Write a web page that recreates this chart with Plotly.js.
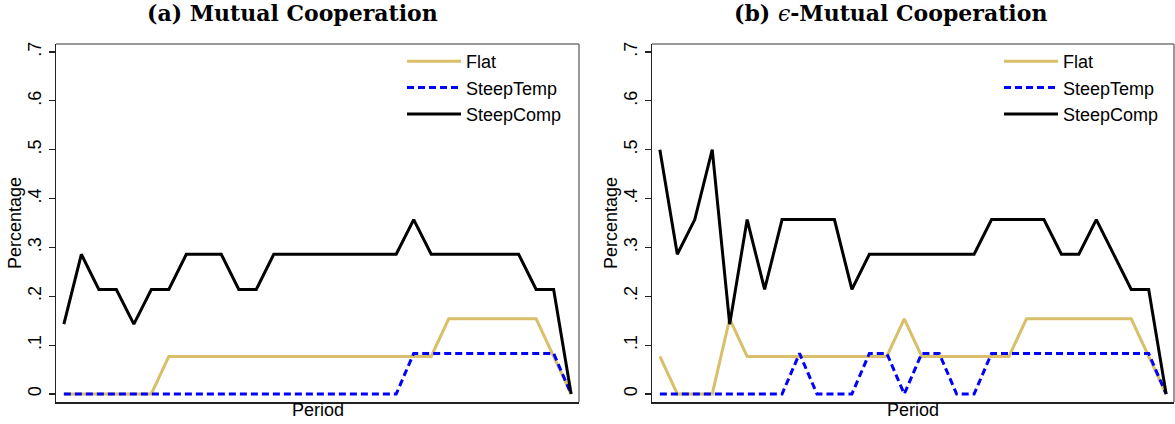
<!DOCTYPE html>
<html>
<head>
<meta charset="utf-8">
<script src="https://cdn.plot.ly/plotly-3.0.1.min.js"></script>
<style>html,body{margin:0;padding:0;background:#fff;}#chart{width:1175px;height:424px;}</style>
</head>
<body>
<div id="chart"></div>
<script>
// ---- data ----
const periods = Array.from({length: 30}, (_, i) => i + 1);
const seriesNames = ["Flat", "SteepTemp", "SteepComp"];

// (a) Mutual Cooperation
const flatA = [0,0,0,0,0,0,0.077,0.077,0.077,0.077,0.077,0.077,0.077,0.077,0.077,0.077,0.077,0.077,0.077,0.077,0.077,0.077,0.154,0.154,0.154,0.154,0.154,0.154,0.077,0];
const steepTempA = [0,0,0,0,0,0,0,0,0,0,0,0,0,0,0,0,0,0,0,0,0.083,0.083,0.083,0.083,0.083,0.083,0.083,0.083,0.083,0];
const steepCompA = [0.143,0.286,0.214,0.214,0.143,0.214,0.214,0.286,0.286,0.286,0.214,0.214,0.286,0.286,0.286,0.286,0.286,0.286,0.286,0.286,0.357,0.286,0.286,0.286,0.286,0.286,0.286,0.214,0.214,0];

// (b) epsilon-Mutual Cooperation
const flatB = [0.077,0,0,0,0.154,0.077,0.077,0.077,0.077,0.077,0.077,0.077,0.077,0.077,0.154,0.077,0.077,0.077,0.077,0.077,0.077,0.154,0.154,0.154,0.154,0.154,0.154,0.154,0.077,0];
const steepTempB = [0,0,0,0,0,0,0,0,0.083,0,0,0,0.083,0.083,0,0.083,0.083,0,0,0.083,0.083,0.083,0.083,0.083,0.083,0.083,0.083,0.083,0.083,0];
const steepCompB = [0.5,0.286,0.357,0.5,0.143,0.357,0.214,0.357,0.357,0.357,0.357,0.214,0.286,0.286,0.286,0.286,0.286,0.286,0.286,0.357,0.357,0.357,0.357,0.286,0.286,0.357,0.286,0.214,0.214,0];

const yTickVals = [0, 0.1, 0.2, 0.3, 0.4, 0.5, 0.6, 0.7];
const yTickText = ["0", ".1", ".2", ".3", ".4", ".5", ".6", ".7"];
const panelTitles = ["<b>(a) Mutual Cooperation</b>", "<b>(b) </b><i>ϵ</i><b>-Mutual Cooperation</b>"];
const xTitle = "Period";
const yTitle = "Percentage";

// ---- styles ----
const sans = "Liberation Sans, Arial, sans-serif";
const styles = [
  {color: "#d9bf69", width: 3, dash: "solid"},
  {color: "#0000ff", width: 3, dash: "7px,4px"},
  {color: "#000000", width: 3, dash: "solid"}
];

function mk(y, i, xa, ya, lg) {
  return {x: periods, y: y, type: "scatter", mode: "lines", name: seriesNames[i],
    line: styles[i], xaxis: xa, yaxis: ya, legend: lg, hoverinfo: "skip"};
}

const data = [
  mk(flatA, 0, "x", "y", "legend"), mk(steepTempA, 1, "x", "y", "legend"), mk(steepCompA, 2, "x", "y", "legend"),
  mk(flatB, 0, "x2", "y2", "legend2"), mk(steepTempB, 1, "x2", "y2", "legend2"), mk(steepCompB, 2, "x2", "y2", "legend2")
];

const W = 1175, H = 424;
const yDom = [(H - 402) / H, (H - 44) / H];
function xax(dom) {
  return {domain: dom, range: [0.55, 30.45], showticklabels: false, ticks: "", showgrid: false, zeroline: false,
    showline: true, linecolor: "#222", linewidth: 1.5, fixedrange: true};
}
function yax(anchor) {
  return {domain: yDom, anchor: anchor, range: [-0.01637, 0.71637], tickvals: yTickVals, ticktext: yTickText,
    tickangle: -90, ticks: "outside", ticklen: 6, tickwidth: 1.2, tickcolor: "#222", showgrid: false, zeroline: false,
    showline: true, linecolor: "#222", linewidth: 1.5, tickfont: {family: sans, size: 18, color: "#000"}, fixedrange: true};
}
function legend(x) {
  return {x: x, y: (H - 43) / H, xref: "paper", yref: "paper", xanchor: "left", yanchor: "top",
    bgcolor: "rgba(0,0,0,0)", font: {family: sans, size: 18, color: "#000"}, itemwidth: 54, tracegroupgap: 0};
}
function frame(xa, ya) {
  return [
    {type: "line", xref: xa + " domain", yref: ya + " domain", x0: 0, x1: 1, y0: 1, y1: 1, line: {color: "#777", width: 1.5}},
    {type: "line", xref: xa + " domain", yref: ya + " domain", x0: 1, x1: 1, y0: 0, y1: 1, line: {color: "#777", width: 1.5}}
  ];
}

const xDomA = [56 / W, 579 / W], xDomB = [652 / W, 1174 / W];
const titleFont = {family: "DejaVu Serif, serif", size: 22, color: "#000"};
const annotations = [
  {text: panelTitles[0], x: 292 / W, y: 1 - 13 / H, xref: "paper", yref: "paper", showarrow: false, xanchor: "center", yanchor: "middle",
    font: titleFont},
  {text: panelTitles[1], x: 890 / W, y: 1 - 13 / H, xref: "paper", yref: "paper", showarrow: false, xanchor: "center", yanchor: "middle",
    font: titleFont},
  {text: xTitle, x: (xDomA[0] + xDomA[1]) / 2, y: 1 - 410 / H, xref: "paper", yref: "paper", showarrow: false, xanchor: "center", yanchor: "middle",
    font: {family: sans, size: 18, color: "#000"}},
  {text: xTitle, x: (xDomB[0] + xDomB[1]) / 2, y: 1 - 410 / H, xref: "paper", yref: "paper", showarrow: false, xanchor: "center", yanchor: "middle",
    font: {family: sans, size: 18, color: "#000"}},
  {text: yTitle, x: 15 / W, y: (yDom[0] + yDom[1]) / 2, xref: "paper", yref: "paper", showarrow: false, textangle: -90, xanchor: "center", yanchor: "middle",
    font: {family: sans, size: 18, color: "#000"}},
  {text: yTitle, x: 611 / W, y: (yDom[0] + yDom[1]) / 2, xref: "paper", yref: "paper", showarrow: false, textangle: -90, xanchor: "center", yanchor: "middle",
    font: {family: sans, size: 18, color: "#000"}}
];

const layout = {
  width: W, height: H, margin: {l: 0, r: 0, t: 0, b: 0},
  paper_bgcolor: "#fff", plot_bgcolor: "#fff", showlegend: true,
  xaxis: Object.assign(xax(xDomA), {anchor: "y"}),
  yaxis: yax("x"),
  xaxis2: Object.assign(xax(xDomB), {anchor: "y2"}),
  yaxis2: yax("x2"),
  legend: legend(402 / W),
  legend2: legend(999 / W),
  shapes: frame("x", "y").concat(frame("x2", "y2")),
  annotations: annotations
};

Plotly.newPlot("chart", data, layout, {staticPlot: true, displayModeBar: false});
</script>
</body>
</html>
